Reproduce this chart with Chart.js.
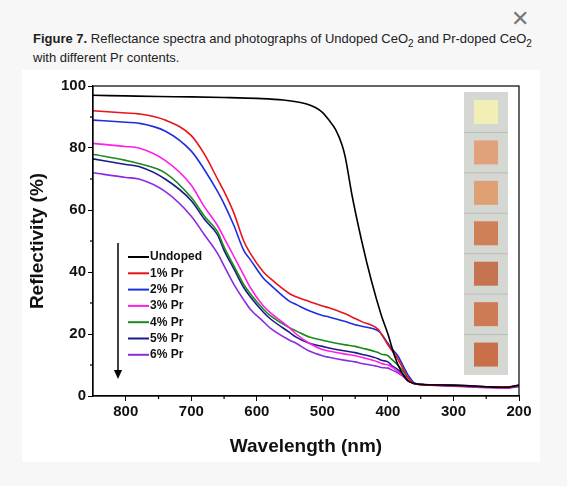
<!DOCTYPE html>
<html><head><meta charset="utf-8">
<script src="https://cdn.jsdelivr.net/npm/chart.js"></script>
<style>
body{margin:0;background:#f7f7f7;width:567px;height:486px;position:relative;font-family:"Liberation Sans",Arial,sans-serif;overflow:hidden}
#close{position:absolute;left:511px;top:6px;font-size:22px;color:#777}
#cap{position:absolute;left:33px;top:29px;width:510px;font-size:13px;line-height:19px;color:#222}
#box{position:absolute;left:22px;top:70px;width:518px;height:392px;background:#fff}
sub{font-size:10px;line-height:0}
</style></head><body>
<div id="close">✕</div>
<div id="cap"><b>Figure 7.</b> Reflectance spectra and photographs of Undoped CeO<sub>2</sub> and Pr-doped CeO<sub>2</sub> with different Pr contents.</div>
<div id="box"><canvas id="c" width="518" height="392"></canvas></div>
<script>
const labels=["Undoped","1% Pr","2% Pr","3% Pr","4% Pr","5% Pr","6% Pr"];
const colors=["#000000","#e8141b","#1d2fe0","#ff1ee8","#1b8a1b","#1a1a8c","#8a2be2"];
const wl1=[850,800,750,700,650,600,560,530,510,500,490,480,470,465,455,440,425,410,400,390,380,370,360,350,300,250,220,200];
const undoped=[97,96.8,96.6,96.5,96.3,96,95.5,94.5,93,91.5,89,86,81,77,65,50,37,26,20,13,8,5,4,3.7,3.5,3,2.8,3.5];
const wl=[850,800,780,740,700,680,660,650,635,620,610,590,580,550,540,520,500,490,465,450,440,415,410,400,395,385,375,370,365,360,350,300,250,220,200];
const pr1=[92,91.3,91,89,84,78,70,66,59,50,46,40,38,33,32,30.5,29,28.5,26.5,25,24,21.5,20,16.5,15,12,8,6,5,4,3.7,3.4,3,2.9,3.4];
const pr2=[89,88.3,88,85.5,79,73,66,62,55,47,44,38,36,30.5,29.5,27.5,26,25.5,24,23,22.5,21,20,17,15.5,13,9,7,5.5,4.2,3.8,3.4,3,2.8,3.3];
const pr3=[81.5,80.5,80,76,68,61,55,51,45,39,35,29,27,22,20,17,15,14.5,13.5,13,12.5,11,10.5,10,9.5,8,6,5,4.5,4,3.7,3.3,2.8,2.6,3.2];
const pr4=[78,76,75,72,64,58,53,48,42,36,33,28,26,22,21,19,18,17.5,16.5,16,15.5,14,13.5,13,12,10,7.5,6,5,4.2,3.8,3.4,3,2.8,3.3];
const pr5=[76.5,74.7,74,70,63,57,52,47,41,35,32,27,25,20.5,19,17,16,15.5,14.5,14,13.5,12,11.5,11,10,8.5,6.5,5,4.5,4,3.7,3.3,2.9,2.7,3.2];
const pr6=[72,70.5,70,66,58,52,46,42,36,31,28,24,22,18,17,14.5,13,12.5,11.5,11,10.5,9.5,9.2,9,8.5,7.5,6,5,4.5,4,3.7,3.2,2.7,2.5,3.1];
const series=[undoped,pr1,pr2,pr3,pr4,pr5,pr6];
const xTicks=[800,700,600,500,400,300,200];
const yTicks=[0,20,40,60,80,100];
const swatches=["#f1efb6","#e1a27b","#dfa074","#d08057","#c47450","#cd7b55","#c96f49"];
const extras={id:'extras',afterDraw(ch){const c=ch.ctx,a=ch.chartArea;c.save();
 c.strokeStyle='#000';c.lineWidth=1.2;c.strokeRect(a.left,a.top,a.right-a.left,a.bottom-a.top);
 const x=ch.scales.x,y=ch.scales.y;
 for(let v=250;v<850;v+=100){const p=x.getPixelForValue(v);c.beginPath();c.moveTo(p,a.bottom);c.lineTo(p,a.bottom+3);c.stroke();}
 for(let v=10;v<100;v+=20){const p=y.getPixelForValue(v);c.beginPath();c.moveTo(a.left,p);c.lineTo(a.left-3,p);c.stroke();}
 c.fillStyle='#d4d7d2';c.fillRect(442,22,44,283);
 const h=283/7;
 for(let i=0;i<7;i++){c.fillStyle=swatches[i];const yy=22+i*h;c.fillRect(452,yy+8,24,24);
  if(i>0){c.strokeStyle='#b9bcb8';c.lineWidth=1;c.beginPath();c.moveTo(442,yy);c.lineTo(486,yy);c.stroke();}}
 c.font='bold 12px "Liberation Sans", Arial';c.textBaseline='middle';
 for(let i=0;i<7;i++){const yy=187+i*16.3;c.strokeStyle=colors[i];c.lineWidth=2;c.beginPath();c.moveTo(106,yy);c.lineTo(127,yy);c.stroke();c.fillStyle='#111';c.fillText(ch.data.datasets[i].label,128,yy);}
 c.strokeStyle='#000';c.fillStyle='#000';c.lineWidth=1.5;c.beginPath();c.moveTo(96,173);c.lineTo(96,300);c.stroke();
 c.beginPath();c.moveTo(92,300);c.lineTo(100,300);c.lineTo(96,309);c.closePath();c.fill();
 c.restore();}};
new Chart(document.getElementById('c'),{type:'line',
 data:{datasets:series.map((s,i)=>({label:labels[i],data:(i===0?wl1:wl).map((w,j)=>({x:w,y:s[j]})),borderColor:colors[i],borderWidth:1.6,pointRadius:0,cubicInterpolationMode:'monotone',fill:false}))},
 options:{responsive:false,animation:false,layout:{padding:{top:16,right:21,left:0,bottom:0}},
 plugins:{legend:{display:false},tooltip:{enabled:false}},
 scales:{
  x:{type:'linear',reverse:true,min:200,max:850,
   afterBuildTicks(s){s.ticks=xTicks.map(v=>({value:v}));},
   afterFit(s){s.height=66;},
   grid:{drawOnChartArea:false,tickLength:5,color:'#000'},border:{color:'#000',width:1.2},
   ticks:{color:'#111',font:{family:'"Liberation Sans", Arial',size:15,weight:'bold'},padding:2,maxRotation:0},
   title:{display:true,text:'Wavelength (nm)',color:'#111',font:{family:'"Liberation Sans", Arial',size:19,weight:'bold'},padding:{top:4}}},
  y:{min:0,max:100,
   afterBuildTicks(s){s.ticks=yTicks.map(v=>({value:v}));},
   afterFit(s){s.width=71;},
   grid:{drawOnChartArea:false,tickLength:5,color:'#000'},border:{color:'#000',width:1.2},
   ticks:{color:'#111',font:{family:'"Liberation Sans", Arial',size:15,weight:'bold'},padding:2},
   title:{display:true,text:'Reflectivity (%)',color:'#111',font:{family:'"Liberation Sans", Arial',size:19,weight:'bold'},padding:{bottom:6}}}}},
 plugins:[extras]});
</script></body></html>
